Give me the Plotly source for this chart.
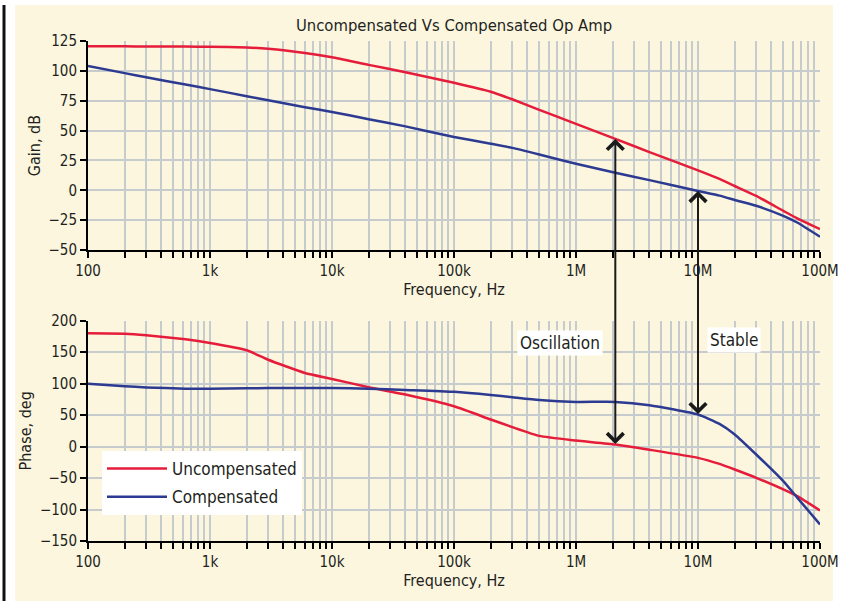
import numpy as np
import plotly.graph_objects as go
from plotly.subplots import make_subplots

# ---------------- data ----------------
freq = [100, 200, 300, 630, 1e3, 2e3, 3e3, 6e3, 1e4, 2e4, 4e4, 1e5, 2e5, 3e5, 5e5,
        1e6, 2.1e6, 4e6, 1e7, 1.5e7, 2e7, 3e7, 5e7, 6.5e7, 1e8]
gain_uncomp = [120.5, 120.5, 120.4, 120.3, 120.2, 119.6, 118.5, 115.0, 111.4, 105.0, 98.9,
               90.0, 82.5, 76.2, 67.4, 55.6, 43.0, 32.0, 16.7, 9.5, 3.6, -4.7, -17.2, -23.5, -32.5]
gain_comp = [104.0, 98.1, 94.7, 88.5, 84.7, 78.8, 75.4, 69.6, 65.6, 59.5, 53.5,
             44.7, 39.0, 35.5, 30.0, 22.2, 14.7, 8.5, -0.6, -4.5, -8.1, -13.0, -21.4, -27.0, -38.9]
phase_uncomp = [180.0, 179.4, 177.0, 170.4, 164.6, 153.0, 138.0, 117.0, 107.5, 94.2, 82.6,
                64.0, 43.0, 31.0, 17.0, 9.6, 3.3, -5.0, -17.9, -27.5, -36.4, -49.6, -68.0, -78.7, -101.4]
phase_comp = [100.0, 96.0, 94.0, 92.0, 92.0, 92.5, 93.0, 93.0, 93.0, 92.0, 90.0,
              87.0, 82.0, 78.4, 74.0, 71.0, 71.0, 65.7, 50.9, 36.0, 19.2, -12.6, -54.9, -81.0, -123.6]

x_tickvals = [100, 1e3, 1e4, 1e5, 1e6, 1e7, 1e8]
x_ticktext = ["100", "1k", "10k", "100k", "1M", "10M", "100M"]
gain_ticks = [-50, -25, 0, 25, 50, 75, 100, 125]
phase_ticks = [-150, -100, -50, 0, 50, 100, 150, 200]

series_names = ["Uncompensated", "Compensated"]
title_text = "Uncompensated Vs Compensated Op Amp"
osc_freq = 2.1e6      # frequency marked "Oscillation"
stable_freq = 1e7     # frequency marked "Stable"

# ---------------- style / layout ----------------
W, H = 841, 601
L, R, T, B = 88, 21, 41, 60
PW, PH = W - L - R, H - T - B
gain_dom = [(H - B - 250) / PH, 1.0]
phase_dom = [0.0, (H - B - 320.7) / PH]
gain_rng = [-50, 125]
phase_rng = [-150, 200]

RED = "#e51d3a"
BLUE = "#2c3a91"
GRID = "#c6cbce"
CREAM = "#fcf6df"
TXT = "#231f20"
FONT = "DejaVu Sans Condensed, sans-serif"


def px_x(p):
    return (p - L) / PW


def px_y(p):
    return (H - B - p) / PH


def val_to_px(v, dom, rng):
    frac = dom[0] + (v - rng[0]) / (rng[1] - rng[0]) * (dom[1] - dom[0])
    return T + (1 - frac) * PH


fig = make_subplots(rows=2, cols=1, vertical_spacing=0.1)

line_kw = dict(width=2.5, shape="spline", smoothing=0.5)
fig.add_trace(go.Scatter(x=freq, y=gain_uncomp, mode="lines", name=series_names[0],
                         line=dict(color=RED, **line_kw),
                         legendgroup="u", showlegend=False), row=1, col=1)
fig.add_trace(go.Scatter(x=freq, y=gain_comp, mode="lines", name=series_names[1],
                         line=dict(color=BLUE, **line_kw),
                         legendgroup="c", showlegend=False), row=1, col=1)
fig.add_trace(go.Scatter(x=freq, y=phase_uncomp, mode="lines", name=series_names[0],
                         line=dict(color=RED, **line_kw),
                         legendgroup="u"), row=2, col=1)
fig.add_trace(go.Scatter(x=freq, y=phase_comp, mode="lines", name=series_names[1],
                         line=dict(color=BLUE, **line_kw),
                         legendgroup="c"), row=2, col=1)

xaxis_common = dict(
    type="log", range=[2, 8], tickmode="array", tickvals=x_tickvals, ticktext=x_ticktext,
    showgrid=True, gridcolor=GRID, gridwidth=2, automargin=False,
    ticks="outside", ticklen=6, tickwidth=2, tickcolor="black",
    showline=True, linecolor="black", linewidth=2, zeroline=False,
    minor=dict(dtick="D1", ticks="outside", ticklen=6, tickwidth=2, tickcolor="black",
               showgrid=True, gridcolor=GRID, gridwidth=2),
    tickfont=dict(family=FONT, size=15, color=TXT),
    title=dict(text="Frequency, Hz", font=dict(family=FONT, size=16, color=TXT), standoff=5),
)
fig.update_xaxes(**xaxis_common)
fig.update_layout(xaxis=dict(domain=[0, 1]), xaxis2=dict(domain=[0, 1]))

yaxis_common = dict(
    showgrid=True, gridcolor=GRID, gridwidth=2, automargin=False,
    ticks="outside", ticklen=6, tickwidth=2, tickcolor="black",
    showline=True, linecolor="black", linewidth=2, zeroline=False,
    tickfont=dict(family=FONT, size=15, color=TXT),
)
fig.update_layout(
    yaxis=dict(domain=gain_dom, range=gain_rng, tickmode="array", tickvals=gain_ticks,
               title=dict(text="Gain, dB", font=dict(family=FONT, size=16, color=TXT), standoff=4),
               **yaxis_common),
    yaxis2=dict(domain=phase_dom, range=phase_rng, tickmode="array", tickvals=phase_ticks,
                title=dict(text="Phase, deg", font=dict(family=FONT, size=16, color=TXT), standoff=4),
                **yaxis_common),
)

# background panel and left rule
shapes = [
    dict(type="rect", xref="paper", yref="paper", x0=px_x(15), x1=px_x(833),
         y0=px_y(5), y1=px_y(H + 5), fillcolor=CREAM, line=dict(width=0), layer="below"),
    dict(type="line", xref="paper", yref="paper", x0=px_x(4), x1=px_x(4),
         y0=px_y(5), y1=px_y(H + 5), line=dict(color="#111111", width=3), layer="above"),
]

# arrows linking gain and phase curves
annotations = []
for f, g_series, p_series in [(osc_freq, gain_uncomp, phase_uncomp),
                              (stable_freq, gain_comp, phase_comp)]:
    i = freq.index(f)
    g_val, p_val = g_series[i], p_series[i]
    g_px = val_to_px(g_val, gain_dom, gain_rng)
    p_px = val_to_px(p_val, phase_dom, phase_rng)
    annotations.append(dict(
        x=np.log10(f), y=g_val, xref="x", yref="y", text="", showarrow=True,
        ax=0, ay=p_px - g_px, axref="pixel", ayref="pixel",
        arrowside="end+start", arrowhead=4, startarrowhead=4,
        arrowsize=1.6, startarrowsize=1.6, arrowwidth=2, arrowcolor="#1a1a1a",
        standoff=0, startstandoff=0, borderpad=0))

annotations.append(dict(x=np.log10(7.4e5), y=165, xref="x2", yref="y2", text="Oscillation",
                        showarrow=False, bgcolor="white", borderpad=2,
                        font=dict(family=FONT, size=17, color=TXT)))
annotations.append(dict(x=np.log10(1.97e7), y=169, xref="x2", yref="y2", text="Stable",
                        showarrow=False, bgcolor="white", borderpad=2,
                        font=dict(family=FONT, size=17, color=TXT)))

fig.update_layout(
    width=W, height=H,
    margin=dict(l=L, r=R, t=T, b=B, autoexpand=False),
    paper_bgcolor="white", plot_bgcolor="white",
    title=dict(text=title_text, x=0.5, xref="paper", y=1 - 25 / H, yanchor="middle",
               font=dict(family=FONT, size=16.5, color=TXT)),
    shapes=shapes, annotations=annotations,
    legend=dict(x=px_x(102), y=px_y(451), xanchor="left", yanchor="top",
                bgcolor="white", font=dict(family=FONT, size=17, color=TXT),
                traceorder="grouped", tracegroupgap=3, itemwidth=60),
    showlegend=True,
)

fig.write_html("out.html", config={"displayModeBar": False},
               post_script="document.body.style.margin='0px';")
